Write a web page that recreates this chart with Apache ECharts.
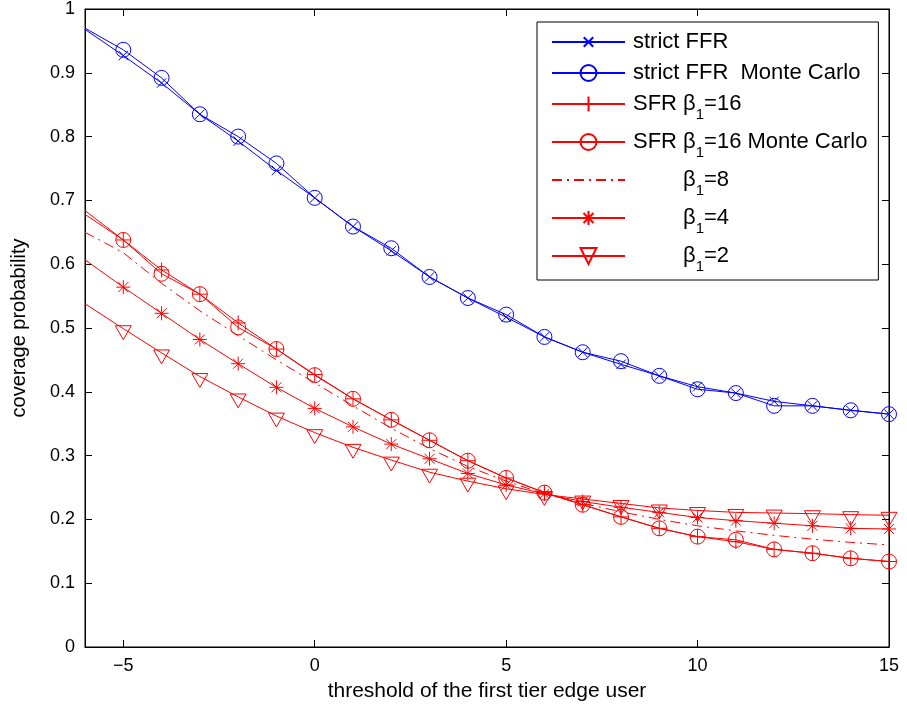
<!DOCTYPE html>
<html><head><meta charset="utf-8">
<script src="https://cdn.jsdelivr.net/npm/echarts@6/dist/echarts.min.js"></script>
<style>html,body{margin:0;padding:0;background:#fff}#c{width:907px;height:715px}</style>
</head><body><div id="c"></div>
<script>
const thresholds = [-6,-5,-4,-3,-2,-1,0,1,2,3,4,5,6,7,8,9,10,11,12,13,14,15];
const strictFFR   = [0.968,0.927,0.884,0.835,0.793,0.747,0.704,0.659,0.621,0.580,0.547,0.517,0.486,0.462,0.443,0.425,0.408,0.398,0.385,0.378,0.371,0.365];
const strictFFRMC = [0.970,0.936,0.892,0.835,0.800,0.758,0.704,0.659,0.625,0.580,0.547,0.521,0.486,0.462,0.448,0.425,0.404,0.398,0.378,0.378,0.371,0.365];
const sfr16       = [0.684,0.638,0.591,0.553,0.508,0.467,0.427,0.389,0.356,0.324,0.292,0.265,0.242,0.223,0.204,0.186,0.173,0.165,0.153,0.147,0.139,0.134];
const sfr16MC     = [0.678,0.638,0.585,0.553,0.501,0.467,0.426,0.389,0.356,0.324,0.292,0.265,0.242,0.223,0.204,0.186,0.173,0.168,0.153,0.147,0.139,0.134];
const beta8       = [0.650,0.618,0.570,0.527,0.488,0.450,0.414,0.378,0.343,0.311,0.283,0.260,0.240,0.225,0.212,0.200,0.190,0.182,0.175,0.169,0.164,0.160];
const beta4       = [0.607,0.564,0.523,0.482,0.444,0.407,0.374,0.345,0.318,0.295,0.272,0.254,0.240,0.228,0.219,0.211,0.203,0.198,0.194,0.190,0.186,0.185];
const beta2       = [0.538,0.499,0.461,0.424,0.392,0.362,0.336,0.313,0.293,0.274,0.260,0.248,0.239,0.232,0.225,0.218,0.214,0.211,0.210,0.209,0.2075,0.2065];
const xTickLabels = [-5,0,5,10,15];
const seriesNames = ['strict FFR','strict FFR  Monte Carlo','SFR \u03b21=16','SFR \u03b21=16 Monte Carlo','\u03b21=8','\u03b21=4','\u03b21=2'];
const legendLabels = {
  'strict FFR': 'strict FFR',
  'strict FFR  Monte Carlo': 'strict FFR  Monte Carlo',
  'SFR \u03b21=16': 'SFR \u03b2{sub|1}=16',
  'SFR \u03b21=16 Monte Carlo': 'SFR \u03b2{sub|1}=16 Monte Carlo',
  '\u03b21=8': '{ind|}\u03b2{sub|1}=8',
  '\u03b21=4': '{ind|}\u03b2{sub|1}=4',
  '\u03b21=2': '{ind|}\u03b2{sub|1}=2'
};

const BLUE = '#0000ff', RED = '#ff0000';
const SYM = {
  cross: 'path://M0,0M16,16M3.3,3.3L12.7,12.7M12.7,3.3L3.3,12.7',
  plus: 'path://M0,0M16,16M8,0.5L8,15.5M0.5,8L15.5,8',
  star: 'path://M0,0M16,16M8,1L8,15M1,8L15,8M3,3L13,13M13,3L3,13',
  tri: 'path://M0,0L16,0L8,13.86Z',
  circle: 'circle'
};
function mk(name, vals, color, sym, size, dash, offset) {
  return {
    name: name, type: 'line',
    symbol: sym ? SYM[sym] : 'none',
    symbolSize: size || 16,
    symbolKeepAspect: true,
    symbolOffset: offset || [0, 0],
    showSymbol: !!sym,
    clip: true,
    z: 3,
    data: thresholds.map((x, i) => i === 0 ? {value: [x, vals[i]], symbol: 'none'} : [x, vals[i]]),
    lineStyle: {color: color, width: 1, type: dash || 'solid'},
    itemStyle: {color: 'rgba(0,0,0,0)', borderColor: color, borderWidth: 1},
    emphasis: {disabled: true},
    animation: false
  };
}
const FONT = 'Liberation Sans, Arial, Helvetica, sans-serif';
const chart = echarts.init(document.getElementById('c'));
chart.setOption({
  backgroundColor: '#fff',
  animation: false,
  grid: {left: 85, right: 18, top: 9, bottom: 68, show: true, borderColor: '#000', borderWidth: 1, backgroundColor: 'transparent'},
  xAxis: [{
    type: 'value', min: -6, max: 15,
    name: 'threshold of the first tier edge user', nameLocation: 'middle', nameGap: 34,
    nameTextStyle: {fontSize: 21, color: '#000', fontFamily: FONT},
    axisLine: {show: true, onZero: false, lineStyle: {color: '#000', width: 1}},
    axisTick: {show: true, inside: true, length: 7, lineStyle: {color: '#000'}, customValues: xTickLabels},
    axisLabel: {show: true, margin: 10, fontSize: 18, color: '#000', fontFamily: FONT, customValues: xTickLabels,
      formatter: v => String(v).replace('-', '\u2212')},
    splitLine: {show: false}
  }, {
    type: 'value', min: -6, max: 15, position: 'top',
    axisLine: {show: true, onZero: false, lineStyle: {color: '#000', width: 1}},
    axisTick: {show: true, inside: true, length: 7, lineStyle: {color: '#000'}, customValues: xTickLabels},
    axisLabel: {show: false}, splitLine: {show: false}
  }],
  yAxis: [{
    type: 'value', min: 0, max: 1, interval: 0.1,
    name: 'coverage probability', nameLocation: 'middle', nameGap: 56,
    nameTextStyle: {fontSize: 20, color: '#000', fontFamily: FONT},
    axisLine: {show: true, onZero: false, lineStyle: {color: '#000', width: 1}},
    axisTick: {show: true, inside: true, length: 7, lineStyle: {color: '#000'}},
    axisLabel: {margin: 10, fontSize: 18, color: '#000', fontFamily: FONT,
      formatter: v => String(Math.round(v * 10) / 10)},
    splitLine: {show: false}
  }, {
    type: 'value', min: 0, max: 1, interval: 0.1, position: 'right',
    axisLine: {show: true, onZero: false, lineStyle: {color: '#000', width: 1}},
    axisTick: {show: true, inside: true, length: 7, lineStyle: {color: '#000'}},
    axisLabel: {show: false}, splitLine: {show: false}
  }],
  legend: {
    orient: 'vertical', left: 537, top: 22,
    backgroundColor: '#fff', borderColor: '#000', borderWidth: 1,
    padding: [9, 11, 6, 14],
    itemWidth: 73, itemHeight: 20, itemGap: 9,
    selectedMode: false,
    data: seriesNames.map(n => n === '\u03b21=8' ? {name: n, itemStyle: {opacity: 0}} : n),
    formatter: n => legendLabels[n],
    textStyle: {fontSize: 22, color: '#000', fontFamily: FONT, padding: [0, 0, 0, 3],
      rich: {sub: {fontSize: 15, fontFamily: FONT, color: '#000', padding: [21, 0, 0, 0]}, ind: {width: 50}}}
  },
  series: [
    mk(seriesNames[0], strictFFR, BLUE, 'cross'),
    mk(seriesNames[1], strictFFRMC, BLUE, 'circle', 15),
    mk(seriesNames[2], sfr16, RED, 'plus'),
    mk(seriesNames[3], sfr16MC, RED, 'circle', 15),
    mk(seriesNames[4], beta8, RED, null, 16, [10, 5, 2, 5]),
    mk(seriesNames[5], beta4, RED, 'star'),
    mk(seriesNames[6], beta2, RED, 'tri', 16, null, [0, 4])
  ]
});
</script></body></html>
